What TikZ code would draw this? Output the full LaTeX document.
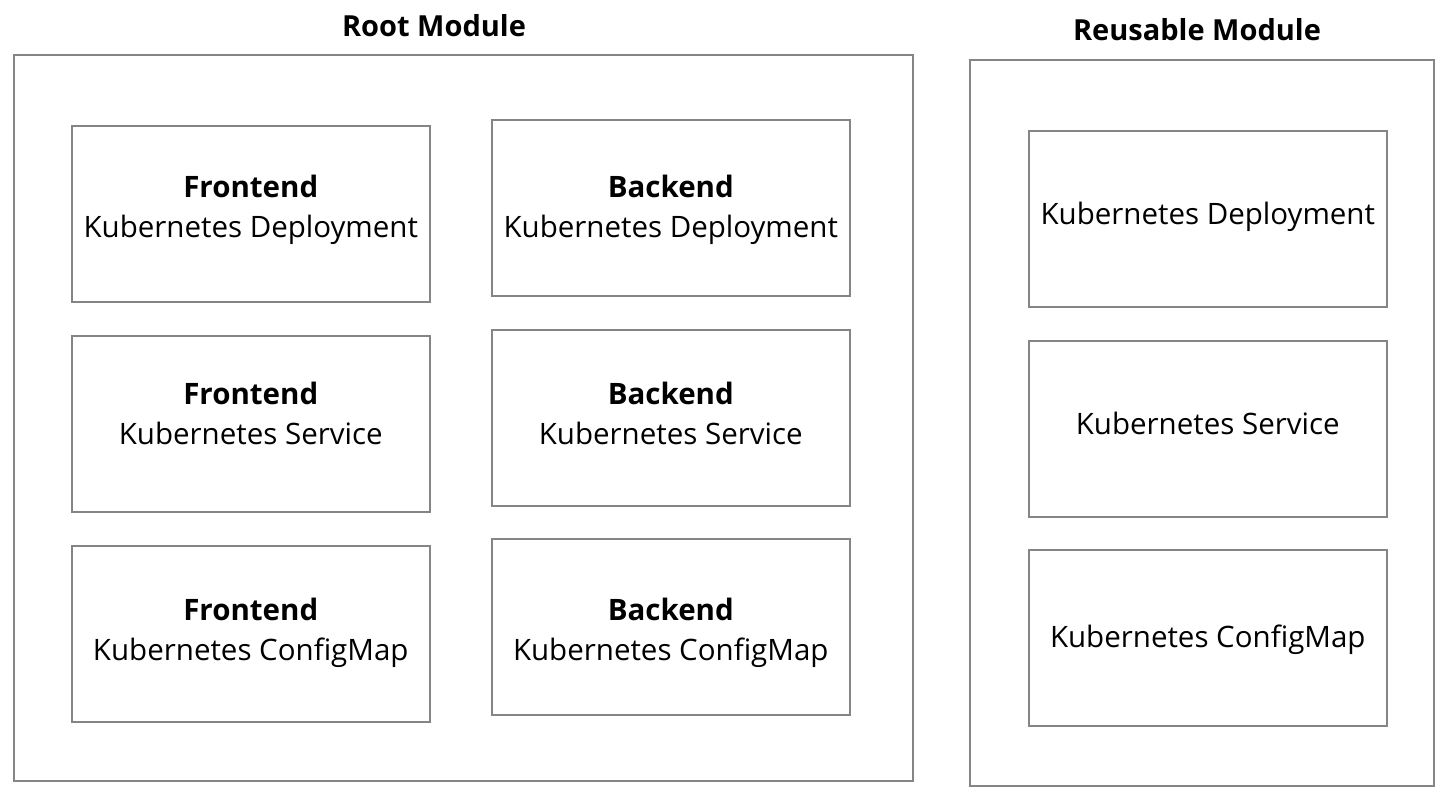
\documentclass[tikz,border=0pt]{standalone}
\usepackage{fontspec}
\setmainfont{Open Sans}
\definecolor{edgegray}{HTML}{858585}
\begin{document}
\begin{tikzpicture}[x=1pt,y=-1pt,
  outerbox/.style={draw=edgegray,line width=2pt,inner sep=0pt,anchor=north west},
  innerbox/.style={draw=edgegray,line width=1.5pt,inner sep=0pt,anchor=north west,
    minimum width=358pt,minimum height=176pt},
  boxtext/.style={inner sep=0pt,align=center,font=\fontsize{29.5}{40}\selectfont},
  title/.style={font=\fontsize{29}{36}\selectfont\bfseries}]
\useasboundingbox (0,0) rectangle (1442,793);
\fill[white] (0,0) rectangle (1442,793);
% outer modules
\node[outerbox,minimum width=899pt,minimum height=726pt] (root) at (13,54) {};
\node[outerbox,minimum width=464pt,minimum height=726pt] (reuse) at (969,59) {};
\node[title] (roottitle) at (434,26) {Root Module};
\node[title] (reusetitle) at (1197,30) {Reusable Module};
% left column
\node[innerbox] (fd) at (71,125) {};
\node[innerbox] (fs) at (71,335) {};
\node[innerbox] (fc) at (71,545) {};
\node[boxtext,yshift=2pt] (fdt) at (fd.center) {\textbf{Frontend}\\Kubernetes Deployment\\[-30pt]\mbox{}};
\node[boxtext,yshift=5pt] (fst) at (fs.center) {\textbf{Frontend}\\Kubernetes Service\\[-30pt]\mbox{}};
\node[boxtext,yshift=-1pt] (fct) at (fc.center) {\textbf{Frontend}\\Kubernetes ConfigMap\\[-30pt]\mbox{}};
% middle column
\node[innerbox] (bd) at (491,119) {};
\node[innerbox] (bs) at (491,329) {};
\node[innerbox] (bc) at (491,538) {};
\node[boxtext,yshift=-4pt] (bdt) at (bd.center) {\textbf{Backend}\\Kubernetes Deployment\\[-30pt]\mbox{}};
\node[boxtext,yshift=-1pt] (bst) at (bs.center) {\textbf{Backend}\\Kubernetes Service\\[-30pt]\mbox{}};
\node[boxtext,yshift=-8pt] (bct) at (bc.center) {\textbf{Backend}\\Kubernetes ConfigMap\\[-30pt]\mbox{}};
% right column
\node[innerbox] (rd) at (1028,130) {};
\node[innerbox] (rs) at (1028,340) {};
\node[innerbox] (rc) at (1028,549) {};
\node[boxtext,yshift=2pt] (rdt) at (rd.center) {Kubernetes Deployment};
\node[boxtext,yshift=5pt] (rst) at (rs.center) {Kubernetes Service};
\node[boxtext,yshift=-2pt] (rct) at (rc.center) {Kubernetes ConfigMap};
\end{tikzpicture}
\end{document}
